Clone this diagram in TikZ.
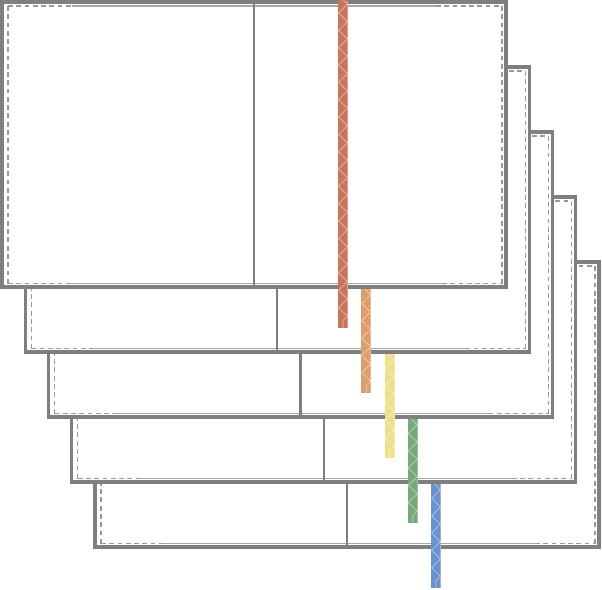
\documentclass[tikz,border=0pt]{standalone}
\usetikzlibrary{decorations.pathmorphing}
\definecolor{edge}{HTML}{7F7F7F}
\definecolor{inner}{HTML}{999999}
\definecolor{rb0}{HTML}{C9755D}
\definecolor{rb1}{HTML}{DE9E6C}
\definecolor{rb2}{HTML}{EDE08A}
\definecolor{rb3}{HTML}{78A97C}
\definecolor{rb4}{HTML}{6C91CF}
\tikzset{
  outerline/.style={draw=edge,line width=2.5pt},
  spine/.style={draw=edge,line width=1.6pt},
  innerdash/.style={draw=inner,line width=1.1pt,dash pattern=on 3.6pt off 2.6pt},
  innersolid/.style={draw=inner!85,line width=1pt},
  zig/.style={draw=white,opacity=0.5,line width=0.5pt,decorate,
    decoration={zigzag,amplitude=3.3pt,segment length=13pt}}
}
\begin{document}
\begin{tikzpicture}[x=0.75pt,y=-0.75pt]
\useasboundingbox (0,0) rectangle (602,589);
\foreach \k/\c in {4/rb4,3/rb3,2/rb2,1/rb1,0/rb0}{
  \pgfmathsetmacro\ox{2+23.25*\k}
  \pgfmathsetmacro\oy{2+65*\k}
  \begin{scope}[shift={(\ox,\oy)}]
    \fill[white] (0,0) rectangle (504,285);
    \draw[innerdash] (6,4) -- (6,281.5);
    \draw[innerdash] (500,4) -- (500,281.5);
    \draw[innerdash] (6,4) -- (70,4);
    \draw[innersolid] (70,4) -- (434,4);
    \draw[innerdash] (434,4) -- (500,4);
    \draw[innerdash] (6,281.5) -- (68,281.5);
    \draw[innersolid] (68,281.5) -- (440,281.5);
    \draw[innerdash] (440,281.5) -- (500,281.5);
    \draw[spine] (252,0) -- (252,285);
    \draw[outerline] (0,0) rectangle (504,285);
    \fill[\c] (336,-2) rectangle (346,326);
    \draw[white,opacity=0.3,line width=0.6pt] (345.5,-2) -- (345.5,326);
    \draw[zig] (341,-2) -- (341,326);
  \end{scope}
}
\end{tikzpicture}
\end{document}
